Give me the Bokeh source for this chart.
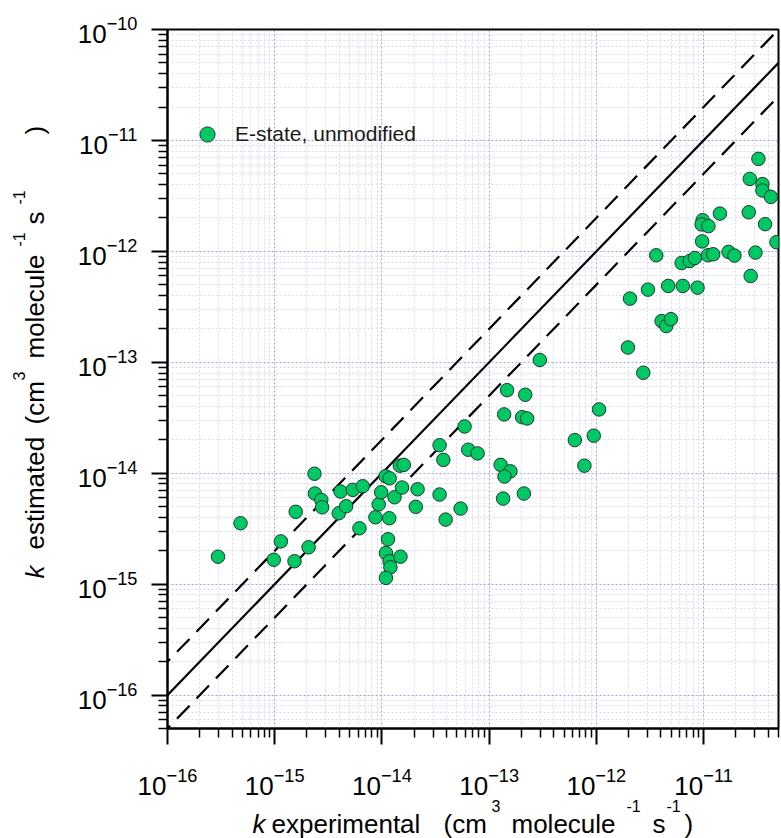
import math
from bokeh.plotting import figure
from bokeh.models import (Range1d, FixedTicker, Label, Legend, LegendItem,
                          ColumnDataSource, LogTickFormatter, GridBox)
from bokeh.embed import file_html
from bokeh.resources import INLINE

# ---------------- data ----------------
k_experimental = [
    2.96e-16, 4.8e-16, 9.8e-16, 1.14e-15, 1.53e-15, 1.57e-15, 2.07e-15, 2.35e-15,
    2.37e-15, 2.72e-15, 2.77e-15, 4.11e-15, 3.96e-15, 4.64e-15, 5.35e-15, 6.17e-15,
    6.62e-15, 8.7e-15, 9.33e-15, 9.84e-15, 1.08e-14, 1.18e-14, 1.17e-14, 1.09e-14,
    1.14e-14, 1.18e-14, 1.2e-14, 1.09e-14, 1.31e-14, 1.47e-14, 1.6e-14, 1.49e-14,
    1.54e-14, 2.15e-14, 2.07e-14, 3.45e-14, 3.74e-14, 3.45e-14, 3.93e-14, 5.42e-14,
    5.9e-14, 6.38e-14, 7.8e-14, 1.47e-13, 2.17e-13, 1.38e-13, 2.03e-13, 2.26e-13,
    1.28e-13, 1.58e-13, 1.39e-13, 1.35e-13, 2.11e-13, 2.97e-13, 6.3e-13, 9.46e-13,
    1.06e-12, 7.73e-13, 1.97e-12, 2.74e-12, 4.06e-12, 4.49e-12, 4.96e-12, 2.06e-12,
    3.03e-12, 4.68e-12, 6.41e-12, 8.79e-12, 3.62e-12, 6.24e-12, 7.45e-12, 8.3e-12,
    1.1e-11, 1.23e-11, 9.7e-12, 9.8e-12, 9.6e-12, 1.11e-11, 1.42e-11, 1.71e-11,
    1.94e-11, 3.05e-11, 2.75e-11, 2.64e-11, 3.75e-11, 4.79e-11, 3.25e-11, 2.7e-11,
    3.54e-11, 3.54e-11, 4.24e-11,
]
k_estimated = [
    1.77e-15, 3.54e-15, 1.66e-15, 2.43e-15, 1.61e-15, 4.49e-15, 2.15e-15, 9.9e-15,
    6.56e-15, 5.75e-15, 4.93e-15, 6.84e-15, 4.36e-15, 5.04e-15, 7.08e-15, 3.19e-15,
    7.63e-15, 4.01e-15, 5.25e-15, 6.74e-15, 9.4e-15, 9.0e-15, 3.93e-15, 1.91e-15,
    2.54e-15, 1.61e-15, 1.42e-15, 1.14e-15, 6.07e-15, 1.17e-14, 1.19e-14, 1.77e-15,
    7.43e-15, 7.17e-15, 4.98e-15, 1.79e-14, 1.32e-14, 6.43e-15, 3.82e-15, 4.8e-15,
    2.64e-14, 1.63e-14, 1.51e-14, 5.61e-14, 5.1e-14, 3.39e-14, 3.2e-14, 3.12e-14,
    1.19e-14, 1.04e-14, 9.33e-15, 5.91e-15, 6.56e-15, 1.05e-13, 1.99e-14, 2.18e-14,
    3.76e-14, 1.17e-14, 1.36e-13, 8.05e-14, 2.35e-13, 2.12e-13, 2.45e-13, 3.75e-13,
    4.52e-13, 4.88e-13, 4.88e-13, 4.71e-13, 9.22e-13, 7.85e-13, 8.19e-13, 8.71e-13,
    9.22e-13, 9.42e-13, 1.23e-12, 1.91e-12, 1.75e-12, 1.69e-12, 2.19e-12, 9.88e-13,
    9.16e-13, 9.75e-13, 6.0e-13, 2.25e-12, 1.76e-12, 1.21e-12, 6.82e-12, 4.5e-12,
    4.04e-12, 3.54e-12, 3.1e-12,
]
series_label = "E-state, unmodified"

x_limits = [1e-16, 5e-11]
y_limits = [5e-17, 1e-10]
x_major_exponents = [-16, -15, -14, -13, -12, -11]
y_major_exponents = [-16, -15, -14, -13, -12, -11, -10]
minor_multipliers = [2, 3, 4, 5, 6, 7, 8, 9]

ref_line_x = [1e-17, 1e-10]
ref_ratio_solid = [1.0]
ref_ratio_dashed = [2.0, 0.5]

# axis titles: (text, start position in px, superscript?, italic?)
x_title = [("k", 252, False, True), ("experimental", 271, False, False),
           ("(cm", 443, False, False), ("3", 491, True, False),
           ("molecule", 511, False, False), ("-1", 626, True, False),
           ("s", 652, False, False), ("-1", 666, True, False), (")", 684, False, False)]
y_title = [("k", 578, False, True), ("estimated", 549, False, False),
           ("(cm", 424, False, False), ("3", 380, True, False),
           ("molecule", 358, False, False), ("-1", 246, True, False),
           ("s", 224, False, False), ("-1", 204, True, False), (")", 134, False, False)]

# ---------------- layout ----------------
W, H = 781, 838
BL, BR, BT, BB = 167, 3, 29, 110
FL = BL
FB = H - BB
FONT = "Liberation Sans"

p = figure(width=W, height=H, x_axis_type="log", y_axis_type="log",
           x_range=Range1d(*x_limits), y_range=Range1d(*y_limits),
           output_backend="svg", toolbar_location=None, title=None,
           min_border_left=BL, min_border_right=BR, min_border_top=BT,
           min_border_bottom=BB)
p.frame_align = False
p.background_fill_color = "white"
p.border_fill_color = "white"
p.outline_line_color = "black"
p.outline_line_width = 2

def decade_ticks(exps, lo, hi):
    major = [float(f"1e{e}") for e in exps]
    minor = []
    for e in range(min(exps) - 1, max(exps) + 1):
        for m in minor_multipliers:
            v = float(f"{m}e{e}")
            if lo <= v <= hi:
                minor.append(v)
    return major, minor

xmaj, xmin = decade_ticks(x_major_exponents, *x_limits)
ymaj, ymin = decade_ticks(y_major_exponents, *y_limits)
xt = FixedTicker(ticks=xmaj, minor_ticks=xmin)
yt = FixedTicker(ticks=ymaj, minor_ticks=ymin)
p.xaxis.ticker = xt
p.yaxis.ticker = yt
p.xgrid.ticker = xt
p.ygrid.ticker = yt
p.xaxis.formatter = LogTickFormatter()
p.yaxis.formatter = LogTickFormatter()

for ax in (p.xaxis, p.yaxis):
    ax.axis_line_color = "black"
    ax.axis_line_width = 2
    ax.major_tick_line_color = "black"
    ax.major_tick_line_width = 2
    ax.minor_tick_line_color = "black"
    ax.minor_tick_line_width = 1.5
    ax.major_tick_in = 0
    ax.major_tick_out = 16
    ax.minor_tick_in = 0
    ax.minor_tick_out = 9
    ax.major_label_text_font = FONT
    ax.major_label_text_font_size = "26px"
    ax.major_label_text_color = "black"
p.xaxis.major_label_standoff = 23
p.yaxis.major_label_standoff = 14

for g in (p.xgrid, p.ygrid):
    g.grid_line_color = "#a0a0f0"
    g.grid_line_dash = "2 2"
    g.grid_line_width = 1
    g.minor_grid_line_color = "#d8d8f7"
    g.minor_grid_line_dash = "2 2"
    g.minor_grid_line_width = 1

# reference lines y = x, y = 2x, y = x/2
for r in ref_ratio_solid:
    p.line(ref_line_x, [v * r for v in ref_line_x], line_color="black", line_width=2.2)
for r in ref_ratio_dashed:
    p.line(ref_line_x, [v * r for v in ref_line_x], line_color="black",
           line_width=2.2, line_dash="18 10")

src = ColumnDataSource(dict(x=k_experimental, y=k_estimated))
pts = p.scatter("x", "y", source=src, size=13.5, fill_color="#00c864",
                line_color="#1f3a28", line_width=1)

legend = Legend(items=[LegendItem(label=series_label, renderers=[pts])],
                location=(188 - FL, FB - 153), padding=0, margin=0, spacing=0,
                glyph_width=38, glyph_height=38, label_height=38,
                label_standoff=9, border_line_alpha=0, background_fill_alpha=0,
                label_text_font=FONT, label_text_font_size="21px",
                label_text_color="#1a1a1a")
p.add_layout(legend)

# ---------------- transparent overlay for the axis titles ----------------
ov = figure(width=W, height=H, x_range=Range1d(0, W), y_range=Range1d(0, H),
            output_backend="svg", toolbar_location=None, title=None,
            x_axis_location=None, y_axis_location=None,
            min_border_left=0, min_border_right=0, min_border_top=0,
            min_border_bottom=0)
ov.frame_align = False
ov.xgrid.visible = False
ov.ygrid.visible = False
ov.outline_line_color = None
ov.background_fill_alpha = 0
ov.border_fill_alpha = 0

# labels land ~8 px "below" their anchor (in the text's own frame)
TXT_SHIFT = 8

MAIN, SUP = "26px", "16px"
X_BASE, X_RAISE = 831, 18
Y_BASE, Y_RAISE = 43, 16

for txt, px, sup, ital in x_title:
    base = X_BASE - (X_RAISE if sup else 0)
    ov.add_layout(Label(x=px, y=H - (base - TXT_SHIFT), text=txt, text_font=FONT,
                        text_font_size=SUP if sup else MAIN,
                        text_font_style="italic" if ital else "normal",
                        text_align="left", text_baseline="alphabetic",
                        text_color="black"))
for txt, py, sup, ital in y_title:
    base = Y_BASE - (Y_RAISE if sup else 0)
    ov.add_layout(Label(x=base - TXT_SHIFT - 1, y=H - py, angle=math.pi / 2, text=txt,
                        text_font=FONT, text_font_size=SUP if sup else MAIN,
                        text_font_style="italic" if ital else "normal",
                        text_align="left", text_baseline="alphabetic",
                        text_color="black"))

layout = GridBox(children=[(p, 0, 0), (ov, 0, 0)])

open("out.html", "w").write(file_html(layout, INLINE))
